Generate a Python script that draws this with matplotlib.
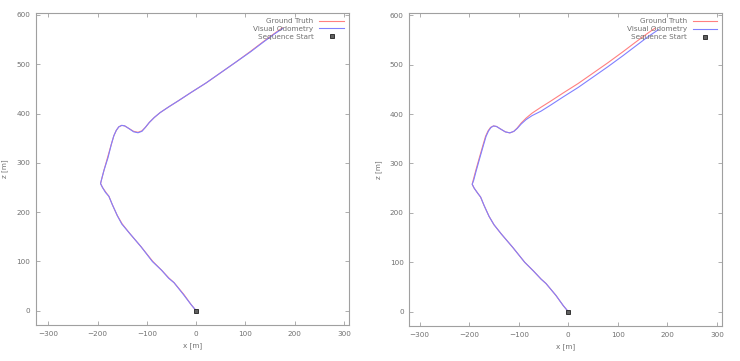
import matplotlib
matplotlib.use("Agg")
import matplotlib.pyplot as plt

# ---- trajectory data (x, z in metres) ----
gt_x = [0, -10, -25, -45, -55, -70, -88, -112, -135, -150, -160, -170, -177, -183,
        -190, -194, -192, -187, -180, -172, -167, -162, -157, -151, -145, -137,
        -127, -118, -110, -103, -95, -85, -73, -55, -36, -10, 20, 50, 80, 110,
        135, 158, 175]
gt_z = [0, 12, 33, 57, 66, 82, 100, 130, 157, 176, 193, 215, 232, 240,
        250, 258, 266, 285, 310, 338, 355, 366, 373, 376, 375, 370,
        364, 362, 365, 372, 382, 392, 402, 414, 426, 443, 462, 483, 504, 526,
        545, 562, 574]

vo_left_x = [0, -10, -26, -45, -56, -70, -89, -112, -135, -151, -160, -170, -177, -184,
             -190, -194, -192, -187, -179, -172, -167, -162, -157, -151, -145, -137,
             -127, -118, -110, -103, -95, -85, -73, -55, -36, -10, 20, 50, 80, 110,
             135, 158, 176]
vo_left_z = [0, 12, 33, 57, 66, 82, 100, 130, 157, 176, 193, 215, 232, 240,
             250, 258, 266, 285, 310, 338, 355, 366, 373, 376, 375, 370,
             363, 361, 364, 372, 382, 392, 402, 414, 426, 443, 462, 483, 504, 525,
             544, 561, 573]

vo_right_x = [0, -10, -25, -45, -55, -70, -88, -112, -135, -150, -160, -170, -177, -183,
              -190, -194, -191, -186, -179, -171, -166, -161, -156, -151, -145, -137,
              -127, -118, -110, -103, -95, -85, -73, -55, -36, -10, 20, 50, 80, 110,
              135, 160, 182]
vo_right_z = [0, 12, 33, 57, 66, 82, 100, 130, 157, 176, 193, 215, 232, 240,
              250, 258, 266, 285, 310, 338, 355, 366, 373, 376, 375, 370,
              364, 362, 365, 371, 380, 389, 397, 406, 418, 435, 454, 475, 496, 518,
              537, 556, 571]

x_ticks = [-300, -200, -100, 0, 100, 200, 300]
z_ticks = [0, 100, 200, 300, 400, 500, 600]

GRAY = "#707070"
FRAME = "#a0a0a0"


def draw_panel(ax, vo_x, vo_z, xlim):
    ax.plot(gt_x, gt_z, color="#ff8080", lw=0.8, label="Ground Truth")
    ax.plot(vo_x, vo_z, color="#8080ff", lw=0.8, label="Visual Odometry")
    ax.plot([0], [0], ls="none", marker="s", ms=3.0, mfc="#606060",
            mec="#202020", mew=0.6, label="Sequence Start")

    ax.set_xlim(*xlim)
    ax.set_ylim(-29, 604)
    ax.set_xticks(x_ticks)
    ax.set_yticks(z_ticks)
    ax.tick_params(direction="in", length=3, width=0.6, colors=FRAME,
                   labelcolor=GRAY, labelsize=5.2, top=True, right=True, pad=4)
    for sp in ax.spines.values():
        sp.set_color(FRAME)
        sp.set_linewidth(0.8)
    ax.set_xlabel("x [m]", fontsize=5.2, color=GRAY, labelpad=4)
    ax.set_ylabel("z [m]", fontsize=5.2, color=GRAY, labelpad=6)

    leg = ax.legend(loc="upper right", fontsize=5.2, frameon=False,
                    markerfirst=False, handlelength=3.4, handletextpad=0.8,
                    labelspacing=0.25, borderaxespad=0.3, borderpad=0.4)
    for t in leg.get_texts():
        t.set_color(GRAY)


fig = plt.figure(figsize=(7.4, 3.61), dpi=100)
ax1 = fig.add_axes([0.0486, 0.0997, 0.423, 0.8643])
ax2 = fig.add_axes([0.5531, 0.097, 0.423, 0.866])

draw_panel(ax1, vo_left_x, vo_left_z, (-325, 310))
draw_panel(ax2, vo_right_x, vo_right_z, (-321, 311))

fig.savefig("out.png", dpi=100)
